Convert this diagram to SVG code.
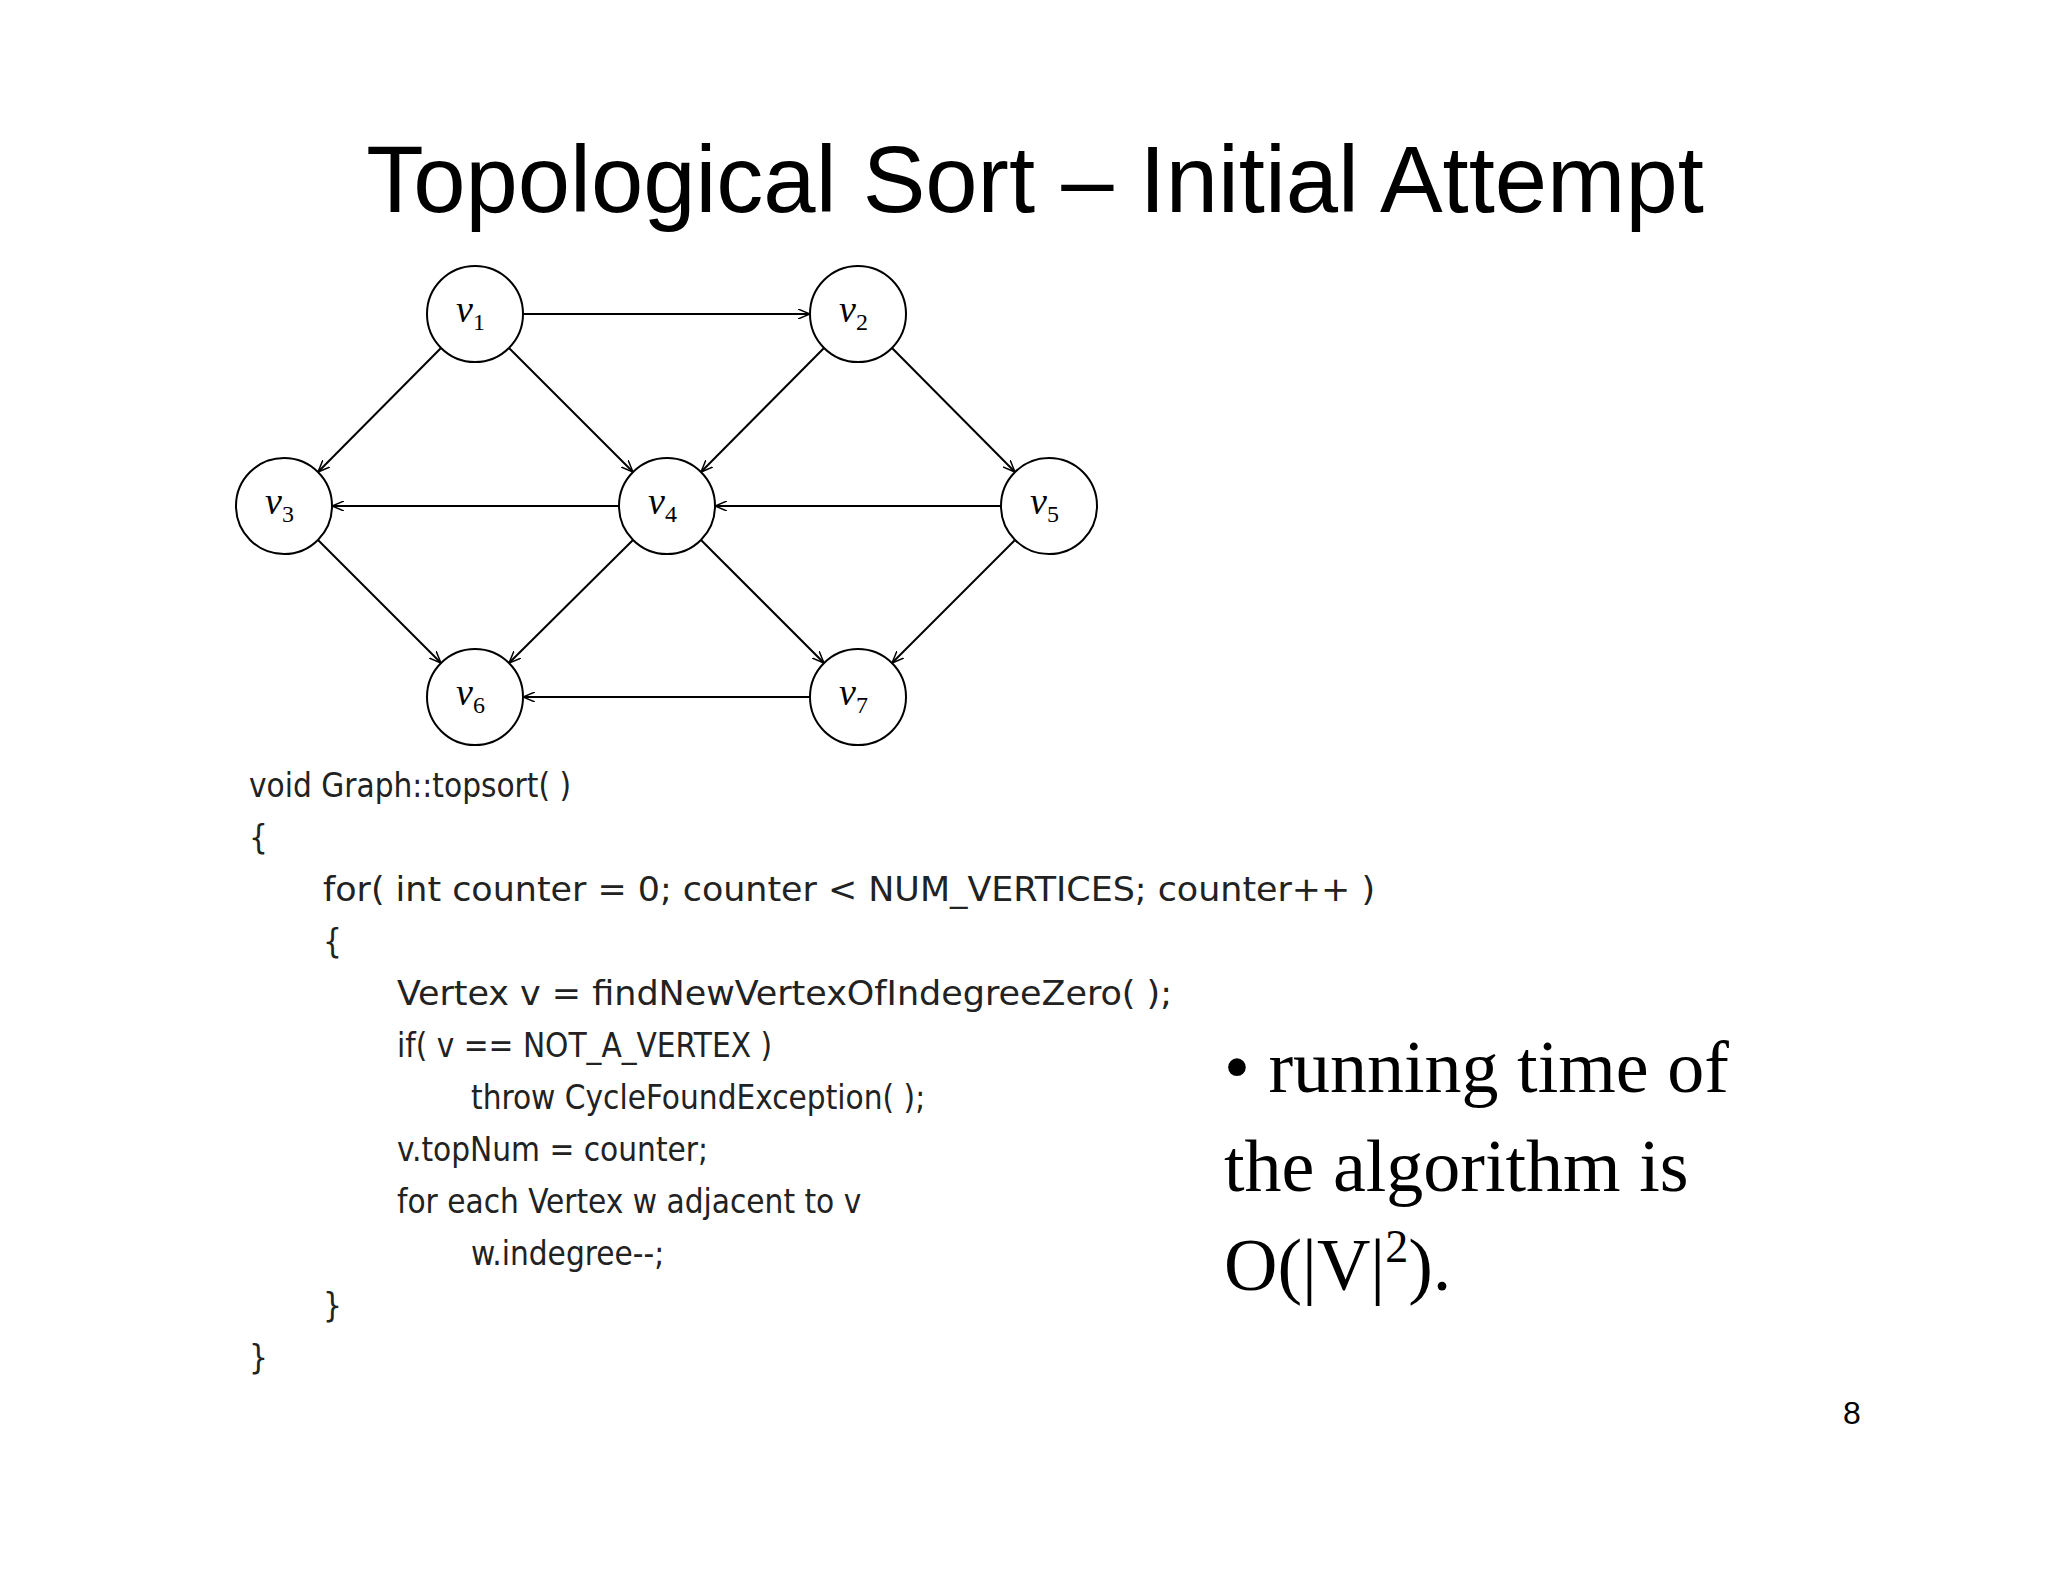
<svg xmlns="http://www.w3.org/2000/svg" width="2048" height="1582" viewBox="0 0 2048 1582">
<style>
.n circle{fill:#fff;stroke:#000;stroke-width:2}
.lbl{font-family:"Liberation Serif",serif;font-size:38px;font-style:italic}
.sub{font-size:24px;font-style:normal}
.e line{stroke:#000;stroke-width:2;marker-end:url(#ah)}
.code{font-family:"DejaVu Sans Condensed","DejaVu Sans",sans-serif;font-size:33px;fill:#222}
.tr{font-family:"Liberation Serif",serif;font-size:74px}
</style>
<defs><marker id="ah" viewBox="0 0 12 10" refX="12" refY="5" markerWidth="12" markerHeight="10" markerUnits="userSpaceOnUse" orient="auto"><path d="M0,0 L12,5 L0,10" fill="none" stroke="#000" stroke-width="1.5"/></marker></defs>
<rect width="2048" height="1582" fill="#fff"/>
<text x="1035" y="212" text-anchor="middle" font-family="Liberation Sans,sans-serif" font-size="94">Topological Sort – Initial Attempt</text>
<g id="edges" class="e">
<line x1="523" y1="314" x2="810" y2="314"/>
<line x1="441" y1="348" x2="318" y2="472"/>
<line x1="509" y1="348" x2="633" y2="472"/>
<line x1="824" y1="348" x2="701" y2="472"/>
<line x1="892" y1="348" x2="1015" y2="472"/>
<line x1="619" y1="506" x2="332" y2="506"/>
<line x1="1001" y1="506" x2="715" y2="506"/>
<line x1="318" y1="540" x2="441" y2="663"/>
<line x1="633" y1="540" x2="509" y2="663"/>
<line x1="701" y1="540" x2="824" y2="663"/>
<line x1="1015" y1="540" x2="892" y2="663"/>
<line x1="810" y1="697" x2="523" y2="697"/>
</g>
<g id="v1" class="n"><circle cx="475" cy="314" r="48"/><text class="lbl" x="456" y="322">v<tspan class="sub" dy="8">1</tspan></text></g>
<g id="v2" class="n"><circle cx="858" cy="314" r="48"/><text class="lbl" x="839" y="322">v<tspan class="sub" dy="8">2</tspan></text></g>
<g id="v3" class="n"><circle cx="284" cy="506" r="48"/><text class="lbl" x="265" y="514">v<tspan class="sub" dy="8">3</tspan></text></g>
<g id="v4" class="n"><circle cx="667" cy="506" r="48"/><text class="lbl" x="648" y="514">v<tspan class="sub" dy="8">4</tspan></text></g>
<g id="v5" class="n"><circle cx="1049" cy="506" r="48"/><text class="lbl" x="1030" y="514">v<tspan class="sub" dy="8">5</tspan></text></g>
<g id="v6" class="n"><circle cx="475" cy="697" r="48"/><text class="lbl" x="456" y="705">v<tspan class="sub" dy="8">6</tspan></text></g>
<g id="v7" class="n"><circle cx="858" cy="697" r="48"/><text class="lbl" x="839" y="705">v<tspan class="sub" dy="8">7</tspan></text></g>
<g class="code">
<text x="249" y="797">void Graph::topsort( )</text>
<text x="249" y="849">{</text>
<text x="323" y="901" textLength="1052" lengthAdjust="spacingAndGlyphs">for( int counter = 0; counter &lt; NUM_VERTICES; counter++ )</text>
<text x="323" y="953">{</text>
<text x="397" y="1005" textLength="775" lengthAdjust="spacingAndGlyphs">Vertex v = findNewVertexOfIndegreeZero( );</text>
<text x="397" y="1057">if( v == NOT_A_VERTEX )</text>
<text x="471" y="1109">throw CycleFoundException( );</text>
<text x="397" y="1161">v.topNum = counter;</text>
<text x="397" y="1213">for each Vertex w adjacent to v</text>
<text x="471" y="1265">w.indegree--;</text>
<text x="323" y="1317">}</text>
<text x="249" y="1369">}</text>
</g>
<text class="tr" x="1224" y="1092">• running time of</text>
<text class="tr" x="1224" y="1191">the algorithm is</text>
<text class="tr" x="1224" y="1290">O(|V|<tspan font-size="46" dy="-28">2</tspan><tspan dy="28">).</tspan></text>
<text x="1852" y="1424" text-anchor="middle" font-family="Liberation Sans,sans-serif" font-size="32">8</text>
</svg>
